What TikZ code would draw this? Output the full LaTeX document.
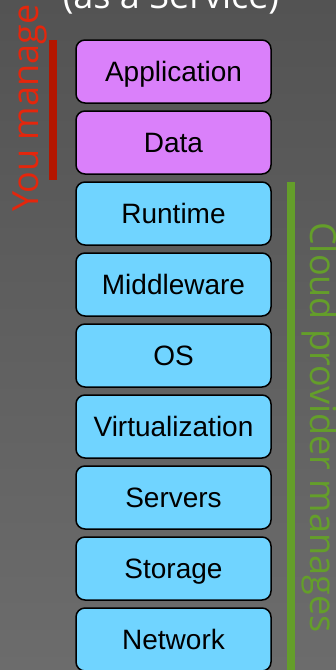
\documentclass[tikz,border=0pt]{standalone}
\usepackage{fontspec}
\setmainfont{Liberation Sans}
\newfontfamily\labelfont{Open Sans}
\definecolor{bgtop}{RGB}{83,83,83}
\definecolor{bgbot}{RGB}{108,108,108}
\definecolor{purplebox}{RGB}{218,128,250}
\definecolor{bluebox}{RGB}{112,212,255}
\definecolor{youred}{RGB}{228,38,12}
\definecolor{redbar}{RGB}{180,22,0}
\definecolor{cloudgreen}{RGB}{100,158,42}
\tikzset{
  layer/.style={draw=black, line width=1.5pt, rounded corners=9pt,
    minimum width=195pt, minimum height=63pt, inner sep=0pt,
    text height=20pt, text depth=0pt,
    font=\fontsize{28}{30}\selectfont, text=black},
  userlayer/.style={layer, fill=purplebox},
  providerlayer/.style={layer, fill=bluebox},
  sidelabel/.style={font=\labelfont\fontsize{36}{40}\selectfont, inner sep=0pt},
}
\begin{document}
\begin{tikzpicture}[x=1pt, y=-1pt]
\useasboundingbox (0,0) rectangle (336,670);
\clip (0,0) rectangle (336,670);
\shade[top color=bgtop, bottom color=bgbot] (0,0) rectangle (336,670);
% title (clipped)
\node[sidelabel, text=white, anchor=base] (title) at (171,8) {(as a Service)};
% layers
\node[userlayer] (app) at (173.5,71.5) {Application};
\node[userlayer] (data) at (173.5,142.5) {Data};
\node[providerlayer] (runtime) at (173.5,213.5) {Runtime};
\node[providerlayer] (mid) at (173.5,284.5) {Middleware};
\node[providerlayer] (os) at (173.5,355.5) {OS};
\node[providerlayer] (virt) at (173.5,426.5) {Virtualization};
\node[providerlayer] (servers) at (173.5,497.5) {Servers};
\node[providerlayer] (storage) at (173.5,568.5) {Storage};
\node[providerlayer] (network) at (173.5,639.5) {Network};
% you manage
\fill[redbar] (49,40) rectangle (57,180);
\node[sidelabel, text=youred, rotate=90, anchor=base west] (you) at (38,212) {You manage};
% cloud provider manages
\fill[cloudgreen] (287,182) rectangle (295,672);
\node[sidelabel, text=cloudgreen, rotate=-90, anchor=base west] (cloud) at (310,222) {Cloud provider manages};
\end{tikzpicture}
\end{document}
